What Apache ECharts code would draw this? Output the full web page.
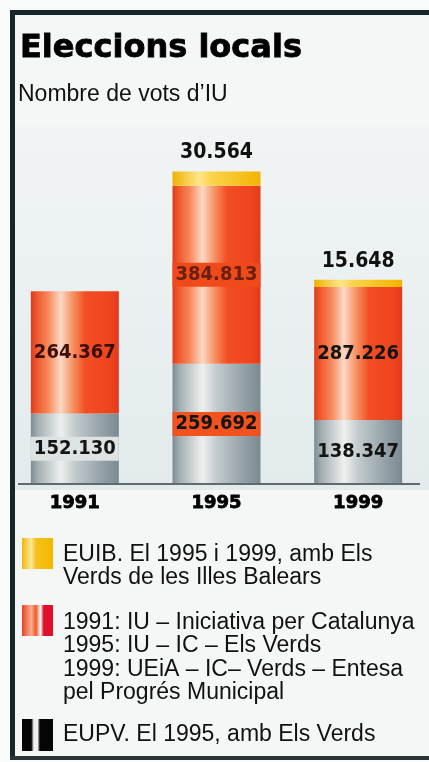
<!DOCTYPE html>
<html>
<head>
<meta charset="utf-8">
<script src="https://cdn.jsdelivr.net/npm/echarts@6/dist/echarts.min.js"></script>
<style>
html,body{margin:0;padding:0;background:#fafbfb;}
#c{width:429px;height:762px;}
</style>
</head>
<body>
<div id="c"></div>
<script>
const years = ['1991', '1995', '1999'];
const eupv = [152130, 259692, 138347];
const iuic = [264367, 384813, 287226];
const euib = [null, 30564, 15648];
const titleText = 'Eleccions locals';
const subtitleText = 'Nombre de vots d\u2019IU';
const legendEuib = 'EUIB. El 1995 i 1999, amb Els\nVerds de les Illes Balears';
const legendIuic = '1991: IU \u2013 Iniciativa per Catalunya\n1995: IU \u2013 IC \u2013 Els Verds\n1999: UEiA \u2013 IC\u2013 Verds \u2013 Entesa\npel Progr\u00e9s Municipal';
const legendEupv = 'EUPV. El 1995, amb Els Verds';

function fmt(v) { return String(v).replace(/\B(?=(\d{3})+(?!\d))/g, '.'); }

const numFont = '"DejaVu Sans Condensed", "Liberation Sans", sans-serif';
const lgFont = '"Liberation Sans", Arial, sans-serif';

function grad(stops) {
  return new echarts.graphic.LinearGradient(0, 0, 1, 0, stops.map(s => ({offset: s[0], color: s[1]})));
}
const redGrad = grad([[0,'#dc3c1c'],[0.06,'#f0542a'],[0.2,'#f68a5c'],[0.34,'#fcd9c6'],[0.46,'#f79a6c'],[0.62,'#f24e22'],[0.9,'#ee4420'],[1,'#e23a1a']]);
const greyGrad = grad([[0,'#7d8b90'],[0.08,'#a3aeb1'],[0.34,'#eef0ef'],[0.5,'#c3cbcd'],[0.78,'#97a5aa'],[1,'#7b8a90']]);
const yelGrad = grad([[0,'#efb000'],[0.3,'#fde68a'],[0.45,'#fbd34a'],[1,'#f2b400']]);

const baseLabel = {
  show: true, position: 'inside', fontFamily: numFont, fontWeight: 'bold',
  fontSize: 20, color: '#141414', textBorderColor: 'inherit', textBorderWidth: 0,
  formatter: p => fmt(p.value)
};

const eupvData = eupv.map((v, i) => {
  const it = {value: v};
  if (i === 0) it.label = {backgroundColor: '#dde2e2', padding: [2, 3]};
  if (i === 1) it.label = {backgroundColor: '#f2521e', padding: [2, 3]};
  return it;
});
const iuicData = iuic.map((v, i) => {
  const it = {value: v};
  if (i === 0) it.label = {color: '#3a1008'};
  if (i === 1) it.label = {color: '#6a2010', backgroundColor: '#f04a1c', padding: [2, 3]};
  return it;
});
const euibData = euib.map(v => (v == null ? '-' : v));

const chart = echarts.init(document.getElementById('c'));
chart.setOption({
  animation: false,
  backgroundColor: '#fafbfb',
  title: [
    {text: titleText, left: 15, top: 28, textStyle: {fontFamily: '"DejaVu Sans", sans-serif', fontWeight: 'bold', fontSize: 32, color: '#000', textBorderColor: '#000', textBorderWidth: 0.8}},
    {text: subtitleText, left: 13, top: 78, textStyle: {fontFamily: lgFont, fontWeight: 'normal', fontSize: 23, color: '#111'}}
  ],
  grid: {left: 4, width: 431, top: 160, height: 324, containLabel: false},
  xAxis: {
    type: 'category', data: years,
    axisLine: {show: false}, axisTick: {show: false},
    axisLabel: {fontFamily: '"DejaVu Sans", sans-serif', fontWeight: 'bold', fontSize: 18, color: '#000', margin: 10, textBorderColor: '#000', textBorderWidth: 0.8}
  },
  yAxis: {type: 'value', min: 0, max: 700000, show: false, splitLine: {show: false}},
  graphic: [
    {type: 'rect', z: -10, shape: {x: 15, y: 15, width: 414, height: 741}, style: {fill: '#f5f7f7'}, silent: true},
    {type: 'rect', z: -9, shape: {x: 15, y: 125, width: 414, height: 365}, style: {fill: new echarts.graphic.LinearGradient(0, 0, 0, 1, [{offset: 0, color: '#f1f4f4'}, {offset: 1, color: '#e3ebed'}])}, silent: true},
    {type: 'rect', z: 10, shape: {x: 10, y: 10, width: 419, height: 5}, style: {fill: '#17262a'}, silent: true},
    {type: 'rect', z: 10, shape: {x: 10, y: 10, width: 5, height: 750}, style: {fill: '#17262a'}, silent: true},
    {type: 'rect', z: 10, shape: {x: 10, y: 756, width: 419, height: 4}, style: {fill: '#2a3436'}, silent: true},
    {type: 'line', z: 10, shape: {x1: 18, y1: 484, x2: 420, y2: 484}, style: {stroke: '#5f6b6e', lineWidth: 2}, silent: true},
    {type: 'rect', shape: {x: 22, y: 538, width: 31, height: 31}, style: {fill: grad([[0,'#f2b800'],[0.3,'#fbe7a0'],[0.45,'#f5c21a'],[1,'#f2b800']])}},
    {type: 'rect', shape: {x: 22, y: 605, width: 31, height: 31}, style: {fill: grad([[0,'#e84020'],[0.3,'#f8b090'],[0.45,'#f05a2c'],[0.6,'#fafafa'],[0.7,'#e0102c'],[1,'#e0102c']])}},
    {type: 'rect', shape: {x: 22, y: 719, width: 31, height: 32}, style: {fill: grad([[0,'#050505'],[0.3,'#050505'],[0.38,'#f0f0f0'],[0.5,'#f0f0f0'],[0.58,'#050505'],[1,'#050505']])}},
    {type: 'text', x: 63, y: 543, style: {text: legendEuib, font: '23px "Liberation Sans", Arial, sans-serif', fill: '#111', lineHeight: 23, verticalAlign: 'top'}},
    {type: 'text', x: 63, y: 611, style: {text: legendIuic, font: '23px "Liberation Sans", Arial, sans-serif', fill: '#111', lineHeight: 23.4, verticalAlign: 'top'}},
    {type: 'text', x: 63, y: 723, style: {text: legendEupv, font: '23px "Liberation Sans", Arial, sans-serif', fill: '#111', lineHeight: 23, verticalAlign: 'top'}}
  ],
  series: [
    {name: 'EUPV', type: 'bar', stack: 'v', barWidth: 88, data: eupvData, itemStyle: {color: greyGrad}, label: baseLabel},
    {name: 'IU-IC', type: 'bar', stack: 'v', barWidth: 88, data: iuicData, itemStyle: {color: redGrad}, label: baseLabel},
    {name: 'EUIB', type: 'bar', stack: 'v', barWidth: 88, data: euibData, itemStyle: {color: yelGrad},
     label: Object.assign({}, baseLabel, {position: 'top', distance: 8, fontSize: 21, color: '#111'})}
  ]
});
</script>
</body>
</html>
